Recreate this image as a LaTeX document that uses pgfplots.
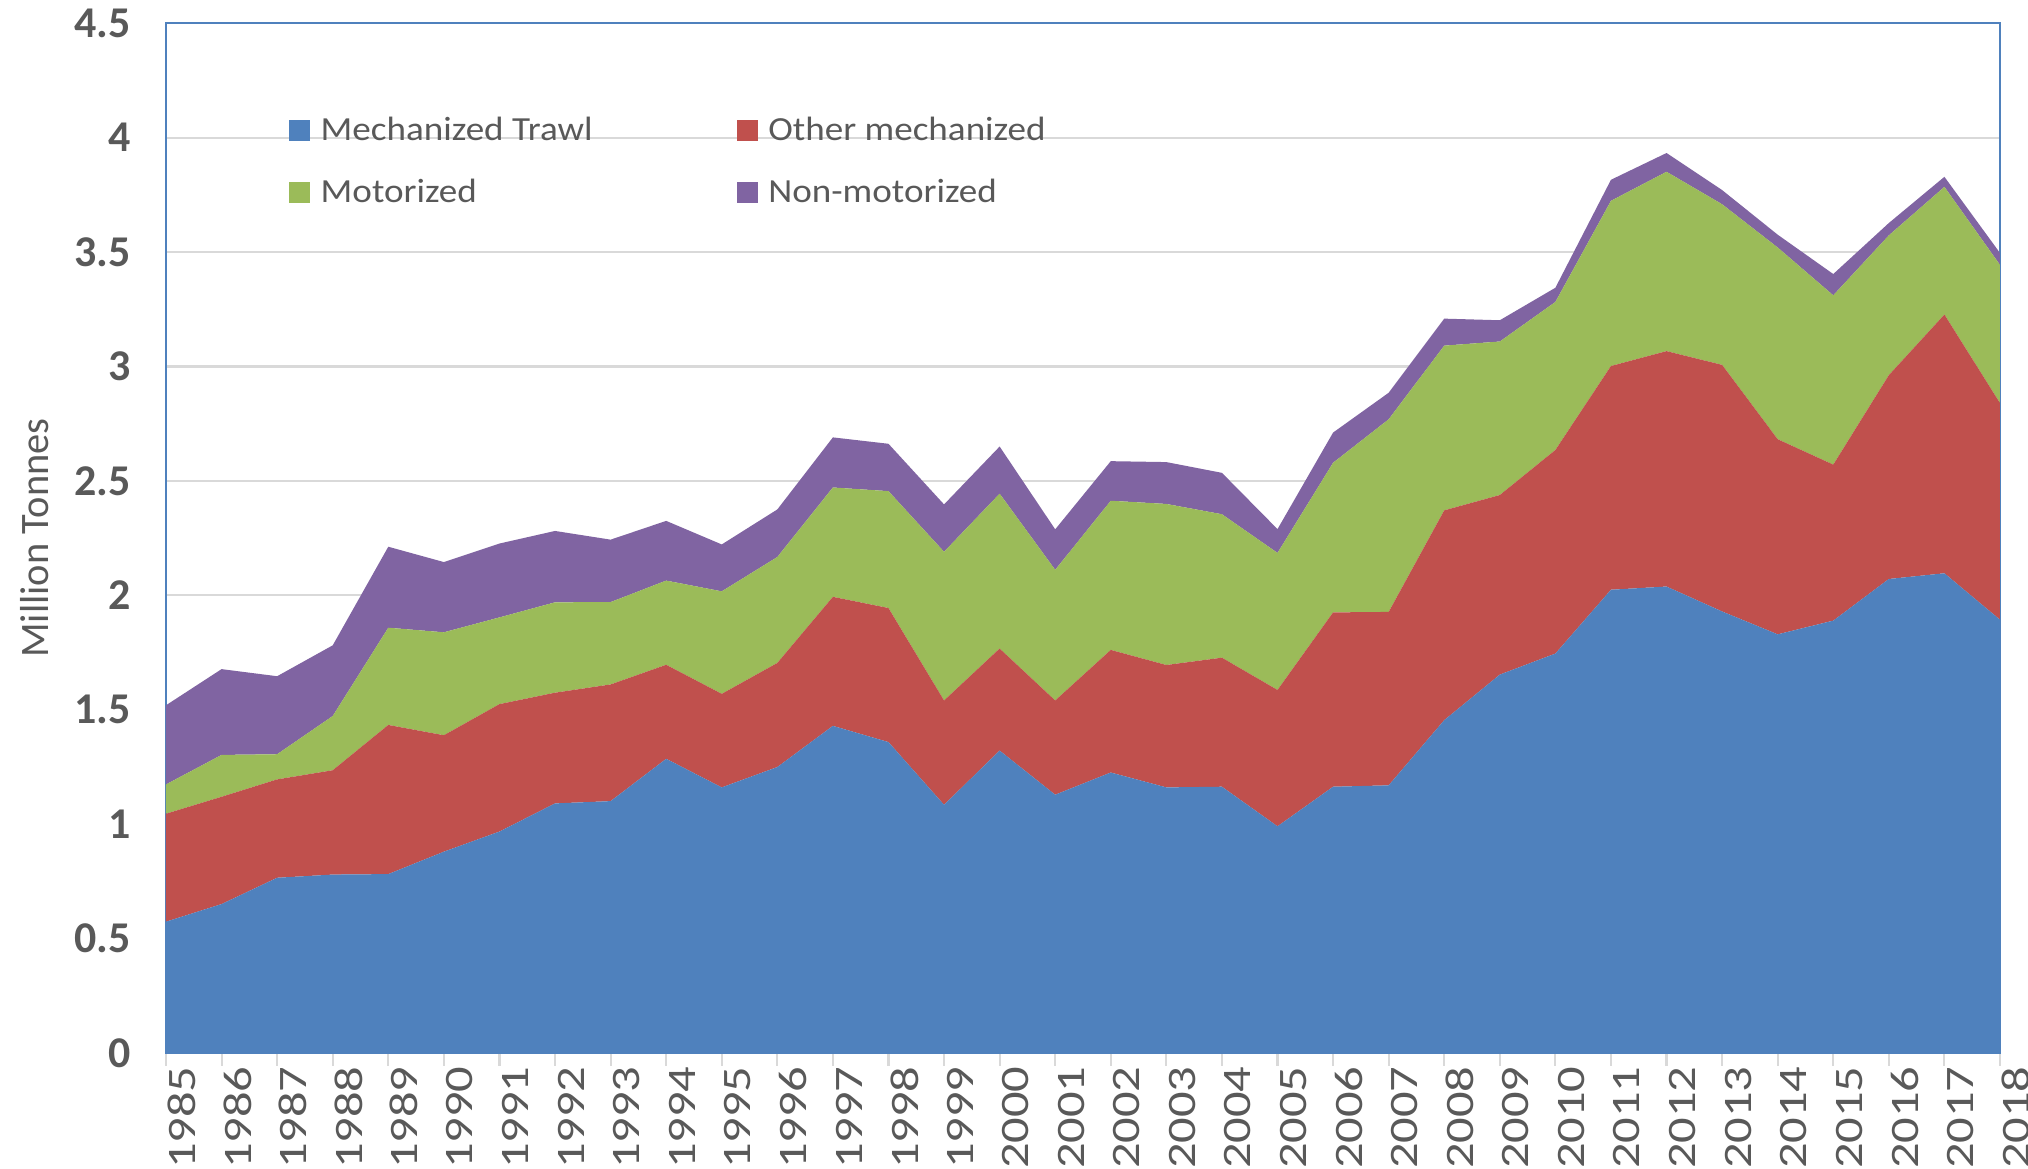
\documentclass[border=0pt]{standalone}
\usepackage{fontspec}
\setmainfont{Carlito}
\usepackage{graphicx}
\usepackage{pgfplots}
\usepackage{pgfplotstable}
\pgfplotsset{compat=1.18}
\definecolor{cTrawl}{HTML}{4F81BD}
\definecolor{cOther}{HTML}{C0504D}
\definecolor{cMotor}{HTML}{9BBB59}
\definecolor{cNon}{HTML}{8064A2}
\definecolor{txt}{HTML}{595959}
\definecolor{gridc}{HTML}{D9D9D9}
\definecolor{framec}{HTML}{4F81BD}
% values per series (million tonnes), stacked in this order
\pgfplotstableread{
year trawl other motor non
1985 0.573 0.472 0.128 0.346
1986 0.650 0.469 0.183 0.375
1987 0.765 0.430 0.110 0.341
1988 0.779 0.456 0.237 0.309
1989 0.781 0.652 0.425 0.354
1990 0.879 0.509 0.450 0.307
1991 0.967 0.557 0.379 0.323
1992 1.090 0.484 0.395 0.312
1993 1.100 0.510 0.360 0.273
1994 1.285 0.411 0.368 0.261
1995 1.160 0.409 0.448 0.205
1996 1.249 0.455 0.463 0.208
1997 1.429 0.564 0.478 0.219
1998 1.358 0.586 0.511 0.207
1999 1.084 0.456 0.650 0.207
2000 1.321 0.446 0.677 0.206
2001 1.128 0.412 0.571 0.177
2002 1.225 0.536 0.652 0.173
2003 1.160 0.535 0.704 0.183
2004 1.163 0.564 0.627 0.181
2005 0.990 0.596 0.599 0.104
2006 1.163 0.762 0.654 0.132
2007 1.169 0.758 0.842 0.116
2008 1.454 0.917 0.720 0.118
2009 1.653 0.785 0.671 0.093
2010 1.745 0.890 0.647 0.062
2011 2.024 0.978 0.722 0.092
2012 2.038 1.029 0.784 0.082
2013 1.929 1.078 0.702 0.062
2014 1.829 0.853 0.838 0.056
2015 1.889 0.682 0.740 0.093
2016 2.071 0.891 0.611 0.054
2017 2.096 1.131 0.558 0.044
2018 1.893 0.947 0.604 0.052
}\data
\begin{document}
\begin{tikzpicture}
\useasboundingbox (-1.66,-1.16) rectangle (18.62,10.528);
\begin{axis}[
  scale only axis,
  width=18.34cm, height=10.295cm,
  xmin=1985, xmax=2018, ymin=0, ymax=4.5,
  stack plots=y,
  /pgf/number format/assume math mode=true,
  xtick={1985,1986,...,2018},
  ytick={0,0.5,1,1.5,2,2.5,3,3.5,4,4.5},
  yticklabels={0,0.5,1,1.5,2,2.5,3,3.5,4,4.5},
  xticklabel={\scalebox{1.25}[1]{\pgfmathprintnumber[fixed,precision=0,1000 sep={}]{\tick}}},
  xticklabel style={rotate=90, anchor=east, inner sep=0pt, text=txt,
    font=\fontsize{11.5}{13}\selectfont, yshift=-0.16cm},
  yticklabel style={anchor=east, inner sep=0pt, text=txt,
    font=\fontsize{12.5}{14}\selectfont\bfseries, xshift=-0.216cm},
  tick pos=left,
  tick align=outside,
  major tick length=0.13cm,
  xtick style={draw=gridc, line width=0.6pt},
  ytick style={draw=none},
  ymajorgrids,
  grid style={draw=gridc, line width=0.6pt},
  axis line style={draw=framec, line width=0.6pt},
  ylabel={Million Tonnes},
  ylabel style={at={(axis description cs:0,0.5)}, anchor=center, yshift=1.31cm,
    text=txt, font=\fontsize{11.5}{13}\selectfont},
  legend columns=2,
  legend image code/.code={\fill[#1] (0cm,-0.105cm) rectangle (0.21cm,0.105cm);},
  legend cell align=left,
  legend style={draw=none, fill=none, inner sep=0pt, outer sep=0pt,
    at={(axis description cs:0.0671,0.9063)}, anchor=north west,
    column sep=0.107cm, row sep=0.409cm,
    /tikz/every even column/.append style={column sep=1.44cm},
    nodes={inner sep=0pt, text height=0.21cm, text depth=0pt, anchor=west,
      text=txt, font=\fontsize{9.6}{11}\selectfont}},
]
\addplot[fill=cTrawl, draw=none] table[x=year, y=trawl] {\data} \closedcycle;
\addlegendentry{\scalebox{1.1}[1]{Mechanized Trawl}}
\addplot[fill=cOther, draw=none] table[x=year, y=other] {\data} \closedcycle;
\addlegendentry{\scalebox{1.1}[1]{Other mechanized}}
\addplot[fill=cMotor, draw=none] table[x=year, y=motor] {\data} \closedcycle;
\addlegendentry{\scalebox{1.1}[1]{Motorized}}
\addplot[fill=cNon, draw=none] table[x=year, y=non] {\data} \closedcycle;
\addlegendentry{\scalebox{1.1}[1]{Non-motorized}}
\draw[framec, line width=0.6pt] (rel axis cs:0,0) -- (rel axis cs:0,1) -- (rel axis cs:1,1) -- (rel axis cs:1,0);
\draw[gridc, line width=0.6pt] (rel axis cs:0,0) -- (rel axis cs:1,0);
\end{axis}
\end{tikzpicture}
\end{document}
